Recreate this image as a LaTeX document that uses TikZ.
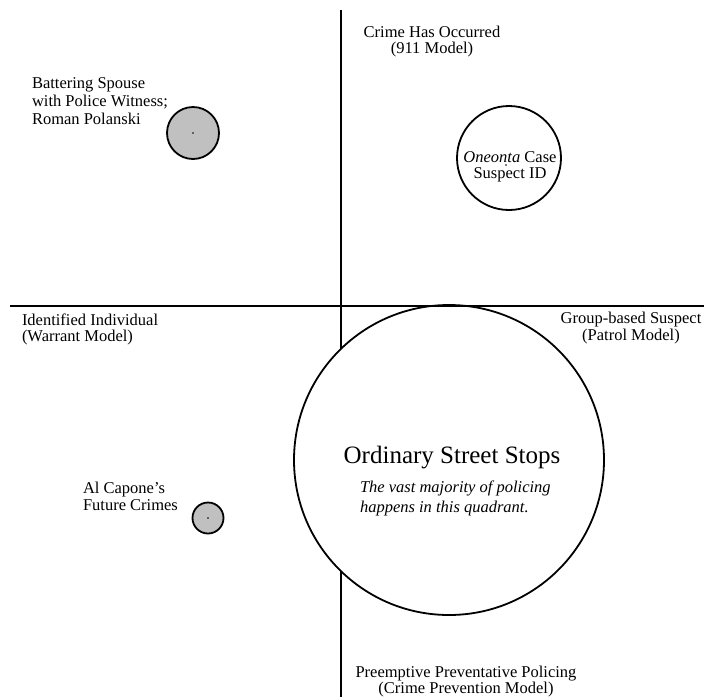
\documentclass[tikz,border=0pt]{standalone}
\usepackage{fontspec}
\setmainfont{Liberation Serif}
\definecolor{bubblegray}{RGB}{192,192,192}
\begin{document}
\begin{tikzpicture}[x=1pt,y=-1pt,
  axis/.style={draw=black, line width=1.8pt},
  bubble/.style={circle, draw=black, line width=1.8pt, inner sep=0pt, outer sep=0pt},
  txt/.style={font=\fontsize{16.5}{18}\selectfont, inner sep=0pt, outer sep=0pt},
  cdot/.style={circle, fill=black, inner sep=0pt, minimum size=1.6pt}]
\useasboundingbox (0,0) rectangle (704,697);
\fill[white] (0,0) rectangle (704,697);
% axes
\coordinate (vt) at (341,10);
\coordinate (vb) at (341,697);
\coordinate (hl) at (10,306);
\coordinate (hr) at (704,306);
\draw[axis] (vt) -- (vb);
\node[bubble, fill=white, minimum size=310pt] (ord) at (449,460) {};
\draw[axis] (hl) -- (hr);
% small circles
\node[bubble, fill=white, minimum size=104pt] (one) at (509,158) {};
\node[bubble, fill=bubblegray, minimum size=52pt] (bat) at (193,133) {};
\node[bubble, fill=bubblegray, minimum size=31pt] (cap) at (208,518) {};
\node[cdot] (batc) at (bat.center) {};
\node[cdot] (capc) at (cap.center) {};
% labels
\node[txt, align=left, anchor=north west] (batl) at (32,78) {Battering Spouse\\with Police Witness;\\Roman Polanski};
\node[txt, font=\fontsize{16.5}{16.5}\selectfont, align=center, anchor=north] (crime) at (432,26) {Crime Has Occurred\\(911 Model)};
\node[txt, font=\fontsize{16.5}{16}\selectfont, align=left, anchor=north west] (ident) at (22,314) {Identified Individual\\(Warrant Model)};
\node[txt, font=\fontsize{16.5}{17}\selectfont, align=center, anchor=north] (group) at (631,312) {Group-based Suspect\\(Patrol Model)};
\node[txt, font=\fontsize{16.5}{17}\selectfont, align=left, anchor=north west] (capl) at (83,482) {Al Capone's\\Future Crimes};
\node[txt, font=\fontsize{16.5}{16.5}\selectfont, align=center, anchor=north] (pre) at (466,666) {Preemptive Preventative Policing\\(Crime Prevention Model)};
\node[txt, font=\fontsize{16.5}{15.5}\selectfont, align=center, anchor=north] (onel) at (510,152) {\textit{Oneonta} Case\\Suspect ID};
\node[cdot] (onec) at (506,165) {};
\node[font=\fontsize{25}{30}\selectfont, anchor=base, inner sep=0pt] (ordt) at (452,463) {Ordinary Street Stops};
\node[txt, font=\fontsize{16.5}{19.5}\selectfont\itshape, align=left, anchor=north west] (ordi) at (360,481) {The vast majority of policing\\happens in this quadrant.};
\end{tikzpicture}
\end{document}
